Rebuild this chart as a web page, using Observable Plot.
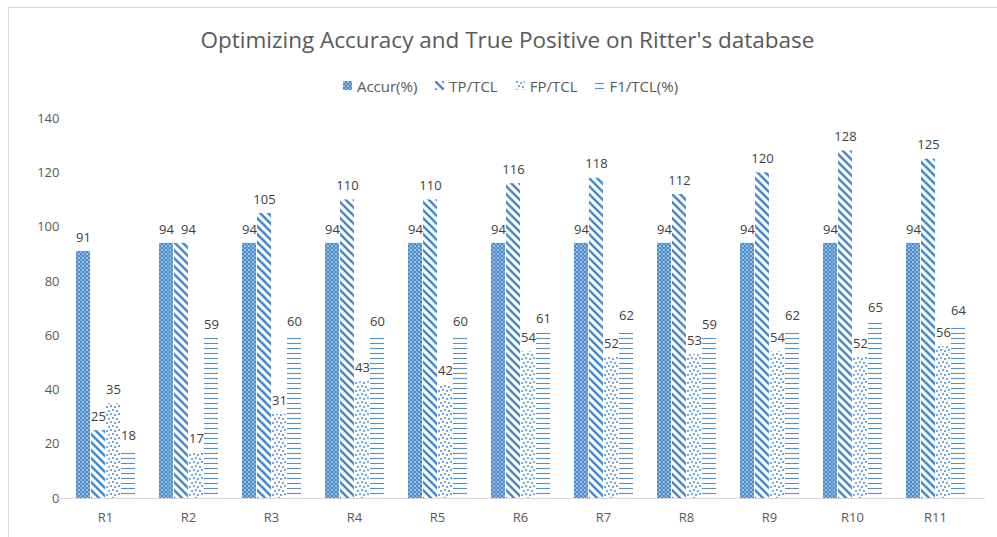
<!DOCTYPE html>
<html><head><meta charset="utf-8">
<script src="https://cdn.jsdelivr.net/npm/d3@7"></script>
<script src="https://cdn.jsdelivr.net/npm/@observablehq/plot@0.6"></script>
<style>
body{margin:0;background:#fff;font-family:"Open Sans",sans-serif;}
#wrap{position:relative;width:997px;height:537px;overflow:hidden;background:#fff;}
#border{position:absolute;left:8px;top:7px;width:995px;height:540px;border:1px solid #d9d9d9;box-sizing:border-box;pointer-events:none;}
#title{height:64px;padding-top:27px;box-sizing:border-box;line-height:26px;font-size:22.5px;color:#595959;text-align:center;padding-left:18px;}
#legend{height:37px;padding-top:6px;box-sizing:border-box;line-height:16px;font-size:15px;color:#595959;display:flex;justify-content:center;gap:18px;padding-left:24px;}
#legend span.item{display:inline-flex;align-items:center;gap:5px;}
#chart svg{display:block;}
</style></head>
<body>
<div id="wrap">
<svg width="0" height="0" style="position:absolute">
 <defs>
  <pattern id="pAccur" patternUnits="userSpaceOnUse" width="4" height="4">
   <rect width="4" height="4" fill="#4a8bcb"/>
   <circle cx="1" cy="1" r="0.85" fill="#ffffff" fill-opacity="0.9"/>
   <circle cx="3" cy="3" r="0.85" fill="#ffffff" fill-opacity="0.6"/>
  </pattern>
  <pattern id="pTP" patternUnits="userSpaceOnUse" width="8" height="8">
   <rect width="8" height="8" fill="#ffffff"/>
   <path d="M-2,-2 L10,10 M-2,6 L2,10 M6,-2 L10,2" stroke="#4a8bcb" stroke-width="2.6"/>
  </pattern>
  <pattern id="pFP" patternUnits="userSpaceOnUse" width="8" height="8">
   <rect width="8" height="8" fill="#ffffff"/>
   <circle cx="1" cy="1" r="1" fill="#4a8bcb"/>
   <circle cx="5" cy="2" r="1" fill="#4a8bcb"/>
   <circle cx="3" cy="5" r="1" fill="#4a8bcb"/>
   <circle cx="7" cy="6" r="1" fill="#4a8bcb"/>
  </pattern>
  <pattern id="pF1" patternUnits="userSpaceOnUse" width="4" height="5">
   <rect width="4" height="5" fill="#ffffff"/>
   <line x1="0" x2="4" y1="2.5" y2="2.5" stroke="#5a8fc4" stroke-width="1.1"/>
  </pattern>
 </defs>
</svg>
<div id="title">Optimizing Accuracy and True Positive on Ritter's database</div>
<div id="legend"></div>
<div id="chart"></div>
<div id="border"></div>
</div>
<script>
const categories = ["R1","R2","R3","R4","R5","R6","R7","R8","R9","R10","R11"];
const series = ["Accur(%)","TP/TCL","FP/TCL","F1/TCL(%)"];
const accur = [91,94,94,94,94,94,94,94,94,94,94];
const tpTcl = [25,94,105,110,110,116,118,112,120,128,125];
const fpTcl = [35,17,31,43,42,54,52,53,54,52,56];
const f1Tcl = [18,59,60,60,60,61,62,59,62,65,64];
const yTicks = [0,20,40,60,80,100,120,140];
const patternIds = ["pAccur","pTP","pFP","pF1"];

const values = [accur, tpTcl, fpTcl, f1Tcl];
const data = categories.flatMap((c, i) => series.map((s, j) => ({cat: c, series: s, value: values[j][i]})));
// Excel nudged the overlapping TP label of R2 to the right
const nudged = d => d.cat === "R2" && d.series === "TP/TCL";

// legend
const legend = document.getElementById("legend");
series.forEach((s, j) => {
  const item = document.createElement("span");
  item.className = "item";
  item.innerHTML = `<svg width="9" height="9"><rect width="9" height="9" fill="url(#${patternIds[j]})"/></svg><span>${s}</span>`;
  legend.appendChild(item);
});

const plot = Plot.plot({
  width: 997, height: 436,
  marginTop: 17, marginBottom: 39, marginLeft: 61, marginRight: 18,
  style: {fontFamily: "Open Sans", fontSize: "13px", color: "#595959", background: "transparent"},
  fx: {domain: categories, paddingInner: 0.28, paddingOuter: 0.14, label: null, tickSize: 0, tickPadding: 14},
  x: {domain: series, axis: null, paddingInner: 0.1, paddingOuter: 0},
  y: {domain: [0, 140], ticks: yTicks, tickSize: 0, tickPadding: 16, label: null},
  color: {domain: series, range: patternIds.map(id => `url(#${id})`)},
  marks: [
    Plot.barY(data, {fx: "cat", x: "series", y: "value", fill: "series"}),
    Plot.text(data.filter(d => !nudged(d)), {fx: "cat", x: "series", y: "value", text: "value", dy: -14, fill: "#404040", fontSize: 13}),
    Plot.text(data.filter(nudged), {fx: "cat", x: "series", y: "value", text: "value", dy: -14, dx: 7, fill: "#404040", fontSize: 13})
  ]
});
const y0 = plot.scale("y").apply(0);
const fxr = plot.scale("fx").range;
d3.select(plot).append("line")
  .attr("x1", fxr[0] - 5).attr("x2", fxr[1] + 6)
  .attr("y1", y0 + 0.5).attr("y2", y0 + 0.5)
  .attr("stroke", "#d9d9d9").attr("stroke-width", 1);
document.getElementById("chart").appendChild(plot);
</script>
</body></html>
